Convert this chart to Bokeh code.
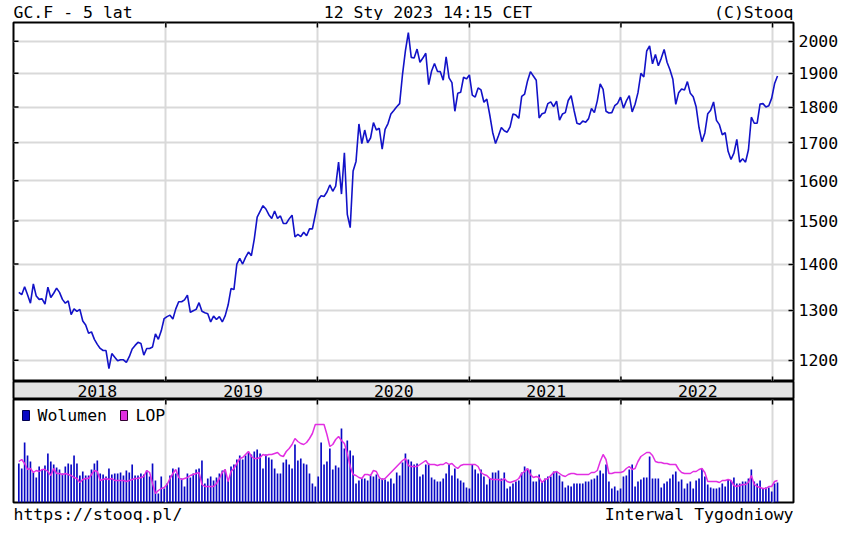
import math
import pandas as pd
from bokeh.plotting import figure
from bokeh.models import (Range1d, FixedTicker, Grid, Label, BoxAnnotation,
                          NumeralTickFormatter)
from bokeh.layouts import column
from bokeh.embed import file_html
from bokeh.resources import INLINE
from bokeh.core.properties import value

# ---------------- data (weekly) ----------------
week_first = "2018-01-12"
week_last = "2023-01-13"

close_2018 = [1338, 1333, 1350, 1333, 1315, 1356, 1330, 1323, 1324, 1313, 1349, 1327, 1336,
              1347, 1338, 1323, 1315, 1320, 1291, 1303, 1298, 1302, 1278, 1270, 1253, 1256,
              1241, 1231, 1223, 1219, 1219, 1184, 1213, 1206, 1199, 1201, 1201, 1196, 1207,
              1222, 1229, 1235, 1233, 1210, 1223, 1223, 1226, 1252, 1241, 1258, 1283]
close_2019 = [1287, 1290, 1282, 1303, 1318, 1318, 1322, 1332, 1296, 1299, 1302, 1316, 1298,
              1295, 1293, 1276, 1288, 1281, 1287, 1276, 1289, 1311, 1346, 1344, 1400, 1413,
              1400, 1415, 1427, 1419, 1457, 1509, 1523, 1537, 1529, 1515, 1506, 1524, 1506,
              1512, 1494, 1494, 1505, 1514, 1462, 1468, 1463, 1473, 1465, 1481, 1481, 1515]
close_2020 = [1552, 1562, 1560, 1571, 1589, 1573, 1586, 1648, 1566, 1673, 1516, 1484, 1625,
              1650, 1752, 1698, 1735, 1700, 1713, 1756, 1735, 1740, 1683, 1737, 1753, 1780,
              1790, 1801, 1810, 1897, 1970, 2028, 1949, 1947, 1975, 1934, 1947, 1962, 1866,
              1907, 1930, 1906, 1905, 1879, 1951, 1886, 1872, 1788, 1840, 1843, 1888, 1883]
close_2021 = [1895, 1835, 1829, 1856, 1850, 1814, 1823, 1778, 1729, 1698, 1719, 1742, 1733,
              1729, 1744, 1780, 1777, 1768, 1831, 1838, 1877, 1905, 1892, 1879, 1769, 1781,
              1784, 1810, 1815, 1801, 1817, 1763, 1780, 1784, 1819, 1833, 1791, 1754, 1751,
              1760, 1757, 1767, 1796, 1784, 1818, 1868, 1852, 1788, 1783, 1784, 1804, 1811, 1829]
close_2022 = [1797, 1818, 1833, 1786, 1808, 1842, 1900, 1889, 1969, 1985, 1929, 1958, 1923,
              1946, 1974, 1934, 1911, 1882, 1808, 1842, 1853, 1850, 1875, 1840, 1830, 1801,
              1742, 1703, 1727, 1781, 1791, 1815, 1762, 1750, 1722, 1728, 1677, 1655, 1672,
              1709, 1648, 1657, 1648, 1681, 1771, 1754, 1754, 1809, 1810, 1800, 1804, 1826]
close_2023 = [1869, 1892]

# volume and open interest (LOP), relative heights
volume = [39, 34, 60, 47, 41, 30, 25, 36, 33, 37, 49, 41, 38, 35, 33, 29, 36, 39, 38, 47,
          39, 27, 31, 27, 27, 33, 39, 42, 29, 28, 26, 34, 28, 29, 29, 30, 27, 32, 30, 38,
          27, 27, 29, 28, 32, 26, 39, 22, 9, 26, 14, 19, 27, 34, 29, 35, 24, 16, 29, 25,
          29, 33, 34, 42, 19, 24, 26, 22, 25, 29, 32, 33, 22, 36, 38, 43, 47, 43, 47, 50,
          48, 51, 53, 49, 34, 48, 45, 43, 34, 29, 29, 40, 43, 38, 34, 58, 42, 44, 39, 38,
          29, 19, 16, 26, 60, 38, 41, 54, 33, 37, 35, 74, 54, 62, 52, 47, 19, 22, 24, 24,
          22, 27, 26, 28, 24, 24, 23, 21, 24, 19, 30, 27, 40, 49, 43, 41, 38, 39, 26, 28,
          38, 39,
          25, 23, 21, 21, 24, 29, 38, 27, 34, 24, 22, 20, 15, 14, 38, 33, 29, 33, 26, 18,
          24, 30, 30, 32, 24, 30, 14, 16, 19, 21, 22, 30, 36, 34, 33, 21, 21, 28, 21, 24,
          26, 26, 31, 31, 27, 21, 15, 17, 16, 19, 19, 19, 19, 21, 21, 23, 24, 27, 32, 29,
          38, 21, 14, 16, 12, 14, 26, 27, 33, 38, 16, 21, 23, 25, 25, 46, 24, 24, 24, 15,
          19, 21, 24, 28, 31, 21, 23, 14, 19, 21, 14, 22, 24, 34, 26, 18, 15, 14, 14, 15,
          19, 16, 23, 22, 25, 19, 19, 21, 21, 24, 33, 21, 19, 22, 14, 15, 15, 11, 19, 20]
lop = [41, 43, 39, 33, 34, 30, 32, 31, 33, 33, 31, 27, 34, 29, 29, 28, 29, 28, 27, 25,
       24, 20, 23, 24, 24, 28, 32, 31, 22, 23, 24, 23, 24, 22, 22, 22, 22, 21, 22, 23,
       24, 24, 25, 26, 32, 30, 19, 9, 12, 14, 15, 18, 24, 29, 33, 25, 23, 24, 25, 27,
       28, 29, 30, 18, 16, 16, 16, 16, 19, 24, 30, 33, 21, 31, 34, 39, 44, 45, 48, 51,
       46, 44, 44, 45, 48, 47, 48, 48, 49, 50, 47, 46, 51, 54, 58, 64, 61, 59, 58, 60,
       64, 69, 78, 78, 78, 78, 68, 56, 58, 63, 66, 62, 59, 49, 36, 28, 27, 25, 24, 28,
       28, 27, 32, 31, 25, 23, 24, 27, 30, 33, 36, 39, 42, 44, 37, 36, 36, 36, 38, 40,
       42, 38,
       38, 38, 37, 38, 38, 40, 38, 39, 36, 34, 37, 38, 38, 38, 38, 38, 36, 30, 28, 27,
       24, 23, 23, 23, 22, 24, 21, 20, 21, 22, 24, 29, 31, 34, 28, 25, 26, 25, 20, 23,
       24, 27, 30, 31, 29, 27, 26, 28, 29, 29, 28, 28, 28, 28, 28, 30, 30, 32, 41, 48,
       43, 29, 29, 30, 30, 30, 31, 34, 36, 33, 34, 41, 46, 48, 50, 50, 47, 41, 40, 40,
       39, 39, 38, 38, 38, 33, 30, 29, 29, 29, 31, 31, 33, 34, 30, 21, 21, 21, 21, 20,
       22, 22, 23, 22, 17, 16, 17, 18, 18, 20, 27, 18, 16, 15, 14, 14, 16, 16, 21, 22]

price_ticks = [1200, 1300, 1400, 1500, 1600, 1700, 1800, 1900, 2000]
year_labels = ["2018", "2019", "2020", "2021", "2022"]
year_starts = ["2019-01-01", "2020-01-01", "2021-01-01", "2022-01-01", "2023-01-01"]
header_texts = ["GC.F - 5 lat", "12 Sty 2023 14:15 CET", "(C)Stooq"]
footer_texts = ["https://stooq.pl/", "Interwal Tygodniowy"]
legend_labels = ["Wolumen", "LOP"]

weeks = pd.date_range(week_first, week_last, freq="W-FRI")
close = close_2018 + close_2019 + close_2020 + close_2021 + close_2022 + close_2023
assert len(weeks) == len(close) == len(volume) == len(lop)

# ---------------- style / geometry (page has no body margin) ----------------
FONT = "DejaVu Sans Mono"
FS = "16.5px"
INK = "#000000"
GRID = "#d9d9d9"
LINE_BLUE = "#1212c8"
BAR_BLUE = "#0808c4"
MAGENTA = "#e22ee2"
BAND = "#e4e4e4"
TOTAL_W = 862
LEFT_B, RIGHT_B = 13, 69
FRAME_W = TOTAL_W - LEFT_B - RIGHT_B       # 780
HEAD_H = 20
MAIN_TOP_B = 2
MAIN_H = 359
BAND_H = 18
VOL_H = 103
VOL_BOT_B = 2
FOOT_H = 31
TICK = 5  # px


def ms(d):
    return pd.Timestamp(d).value / 1e6


day = pd.Timedelta(days=1)
x0_ms = ms(weeks[0] - 12.8 * day)
x1_ms = ms(weeks[-1] + 38.5 * day)
xr = Range1d(start=x0_ms, end=x1_ms)
ms_per_px = (x1_ms - x0_ms) / FRAME_W
year_ms = [ms(d) for d in year_starts]

Y_LO, Y_HI = 1160, 2061
log_per_px = (math.log10(Y_HI) - math.log10(Y_LO)) / MAIN_H


def base_fig(height, y_range, top, bottom, **kw):
    f = figure(width=TOTAL_W, height=height, x_range=xr, y_range=y_range,
               x_axis_type=None, min_border_left=LEFT_B, min_border_right=RIGHT_B,
               min_border_top=top, min_border_bottom=bottom,
               output_backend="svg", toolbar_location=None, **kw)
    f.outline_line_color = INK
    f.outline_line_width = 2
    f.background_fill_color = "white"
    f.border_fill_color = "white"
    return f


def text_strip(height):
    # a strip with the same frame columns as the panels; 1 data unit = 1 pixel
    f = figure(width=TOTAL_W, height=height, x_range=Range1d(0, FRAME_W),
               y_range=Range1d(0, height), x_axis_type=None, y_axis_type=None,
               min_border_left=LEFT_B, min_border_right=RIGHT_B,
               min_border_top=0, min_border_bottom=0,
               output_backend="svg", toolbar_location=None)
    f.outline_line_color = None
    f.background_fill_color = "white"
    f.border_fill_color = "white"
    return f


def year_grid(fig):
    fig.add_layout(Grid(dimension=0, ticker=FixedTicker(ticks=year_ms),
                        grid_line_color=GRID, grid_line_width=2))


# ---------------- header ----------------
head = text_strip(HEAD_H)
head.text(x=[0, 414.5, FRAME_W], y=[HEAD_H - 11.5] * 3, text=header_texts,
          text_align=["left", "center", "right"], text_baseline="middle",
          text_font=value(FONT), text_font_size=value(FS), text_color=INK)

# ---------------- main price panel ----------------
main = base_fig(MAIN_TOP_B + MAIN_H, Range1d(Y_LO, Y_HI), MAIN_TOP_B, 0,
                y_axis_type="log", y_axis_location="right")
ra = main.yaxis[0]
ra.ticker = FixedTicker(ticks=price_ticks)
ra.formatter = NumeralTickFormatter(format="0")
ra.major_label_text_font = FONT
ra.major_label_text_font_size = FS
ra.major_label_text_color = INK
ra.major_label_standoff = 5
ra.major_tick_in = TICK
ra.major_tick_out = 0
ra.major_tick_line_color = INK
ra.major_tick_line_width = 1.5
ra.minor_tick_line_color = None
ra.axis_line_color = None
main.ygrid.ticker = FixedTicker(ticks=price_ticks)
main.ygrid.grid_line_color = GRID
main.ygrid.grid_line_width = 2
year_grid(main)

# inward tick marks: left edge (price levels), top and bottom edges (year starts)
main.segment(x0=[x0_ms] * len(price_ticks), y0=price_ticks,
             x1=[x0_ms + TICK * ms_per_px] * len(price_ticks), y1=price_ticks,
             line_color=INK, line_width=1.5)
k = 10 ** (TICK * log_per_px)
main.segment(x0=year_ms, y0=[Y_HI] * 5, x1=year_ms, y1=[Y_HI / k] * 5,
             line_color=INK, line_width=1.5)
main.segment(x0=year_ms, y0=[Y_LO] * 5, x1=year_ms, y1=[Y_LO * k] * 5,
             line_color=INK, line_width=1.5)

main.line(x=weeks, y=close, line_color=LINE_BLUE, line_width=1.6)

# ---------------- year band ----------------
label_at = ["2018-07-20", "2019-07-06", "2020-07-03", "2021-07-05", "2022-07-05"]
band = base_fig(BAND_H, Range1d(0, 1), 0, 0, y_axis_type=None)
band.background_fill_color = BAND
band.text(x=[ms(d) for d in label_at], y=[0.5] * len(year_labels), text=year_labels,
          text_font=value(FONT), text_font_size=value(FS), text_color=INK,
          text_align="center", text_baseline="middle")

# ---------------- volume / LOP panel ----------------
vol = base_fig(VOL_H + VOL_BOT_B, Range1d(0, VOL_H), 0, VOL_BOT_B, y_axis_type=None)
year_grid(vol)
vol.segment(x0=year_ms, y0=[VOL_H] * 5, x1=year_ms, y1=[VOL_H - TICK] * 5,
            line_color=INK, line_width=1.5)
vol.vbar(x=weeks, top=volume, bottom=0, width=4 * 86400000, fill_color=BAR_BLUE,
         line_color=None)
vol.line(x=weeks, y=lop, line_color=MAGENTA, line_width=1.5)

# legend: swatches + labels, placed in screen units inside the panel
for (lx, colr, edge), txt in zip([(9, BAR_BLUE, "#000050"), (107, MAGENTA, "#300030")],
                                 legend_labels):
    vol.add_layout(BoxAnnotation(left=lx, right=lx + 7, bottom=VOL_H - 21, top=VOL_H - 11,
                                 left_units="screen", right_units="screen",
                                 bottom_units="screen", top_units="screen",
                                 fill_color=colr, fill_alpha=1, line_color=edge,
                                 line_width=1, line_alpha=1))
    vol.add_layout(Label(x=lx + 15, y=VOL_H - 16, x_units="screen", y_units="screen",
                         text=txt, text_font=FONT, text_font_size=FS, text_color=INK,
                         text_align="left", text_baseline="middle"))

# ---------------- footer ----------------
foot = text_strip(FOOT_H)
foot.text(x=[0, FRAME_W], y=[FOOT_H - 10] * 2, text=footer_texts,
          text_align=["left", "right"], text_baseline="middle",
          text_font=value(FONT), text_font_size=value(FS), text_color=INK)

layout = column(head, main, band, vol, foot)
open("out.html", "w").write(file_html(layout, INLINE))
